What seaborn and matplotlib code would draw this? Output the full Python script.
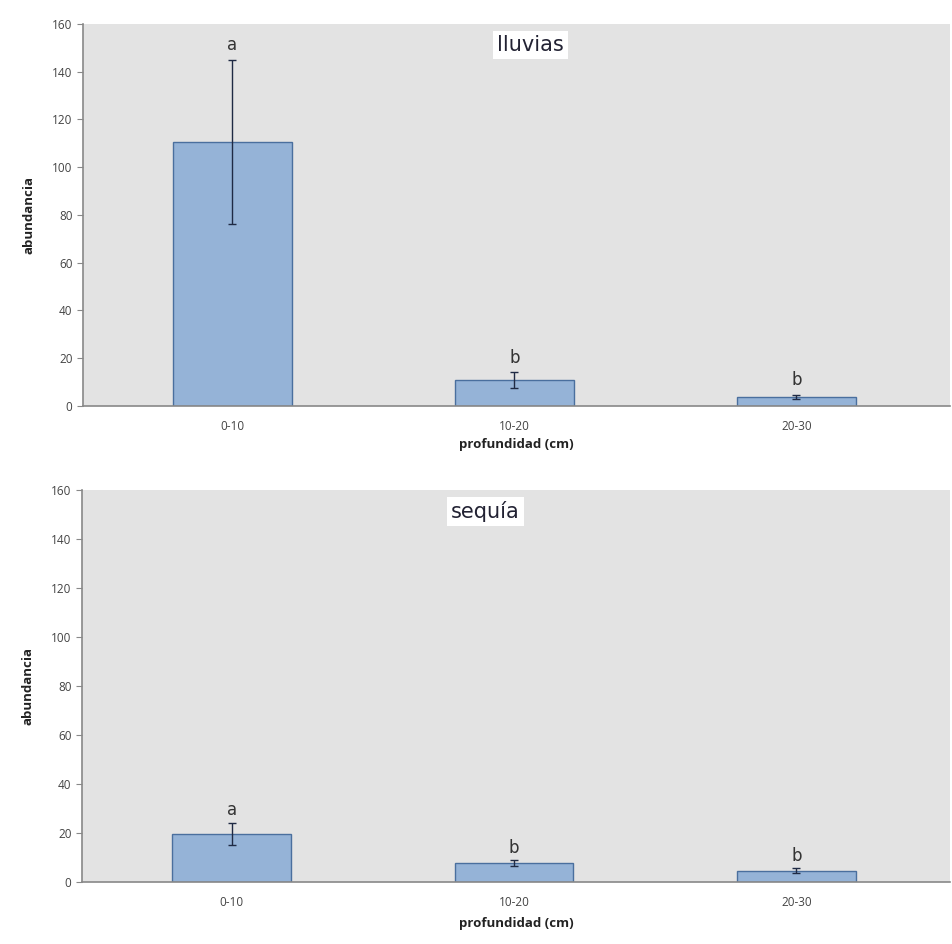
import pandas as pd
import matplotlib.pyplot as plt
import seaborn as sns

# data
depths = ['0-10', '10-20', '20-30']
lluvias_mean = [110.5, 10.8, 3.9]
lluvias_err = [34.5, 3.2, 0.8]
lluvias_letters = ['a', 'b', 'b']
sequia_mean = [19.5, 7.5, 4.5]
sequia_err = [4.5, 1.2, 1.0]
sequia_letters = ['a', 'b', 'b']
yticks = [0, 20, 40, 60, 80, 100, 120, 140, 160]

sns.set_style('white')
plt.rcParams['font.family'] = ['Open Sans', 'DejaVu Sans']

fig = plt.figure(figsize=(9.53, 9.44), dpi=100)
ax_top = fig.add_axes([0.087, 0.570, 0.910, 0.4047])
ax_bot = fig.add_axes([0.086, 0.066, 0.911, 0.415])

panels = [
    (ax_top, lluvias_mean, lluvias_err, lluvias_letters, 'lluvias', 0.516, 2.5),
    (ax_bot, sequia_mean, sequia_err, sequia_letters, 'sequía', 0.465, 1.5),
]

for ax, means, errs, letters, title, tx, gap in panels:
    df = pd.DataFrame({'depth': depths, 'value': means})
    sns.barplot(data=df, x='depth', y='value', ax=ax, color='#95b3d7',
                saturation=1, width=0.42, edgecolor='#4a6f9e', linewidth=1.0,
                errorbar=None)
    ax.set_facecolor('#e3e3e3')
    centers = [p.get_x() + p.get_width() / 2 for p in ax.patches]
    ax.errorbar(centers, means, yerr=errs, fmt='none', ecolor='#1f2a44',
                elinewidth=1.0, capsize=3, capthick=1.0, zorder=5)
    for c, m, e, lab in zip(centers, means, errs, letters):
        ax.text(c, m + e + gap, lab, ha='center', va='bottom',
                fontsize=12, color='#333333', family='DejaVu Sans')
    ax.set_ylim(0, 160)
    ax.set_xlim(-0.53, 2.545)
    ax.set_yticks(yticks)
    ax.tick_params(axis='y', direction='out', length=4, width=0.8,
                   color='#888888', labelsize=8.5, labelcolor='#444444', left=True)
    ax.tick_params(axis='x', length=0, labelsize=8.5, labelcolor='#444444', pad=10)
    for s in ['top', 'right']:
        ax.spines[s].set_visible(False)
    for s in ['left', 'bottom']:
        ax.spines[s].set_color('#888888')
        ax.spines[s].set_linewidth(1.2)
    ax.set_xlabel('profundidad (cm)', fontsize=9.5, fontweight='bold', color='#222222')
    ax.set_ylabel('abundancia', fontsize=9.5, fontweight='bold', color='#222222', labelpad=12)
    ax.text(tx, 0.945, title, transform=ax.transAxes, ha='center', va='center',
            fontsize=15, color='#222233', family='DejaVu Sans',
            bbox=dict(facecolor='white', edgecolor='none', pad=3))

ax_top.xaxis.labelpad = 4
ax_bot.xaxis.labelpad = 6

fig.savefig('out.png', dpi=100)
